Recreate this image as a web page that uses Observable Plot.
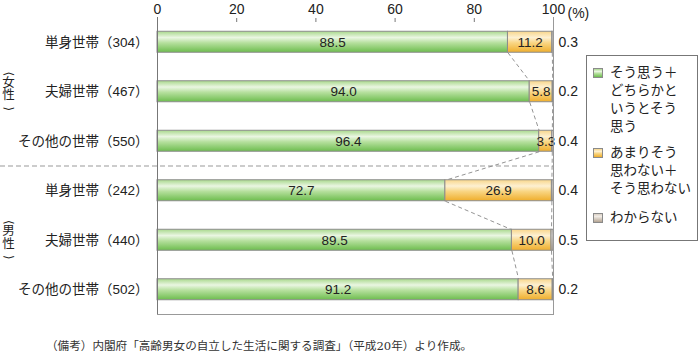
<!DOCTYPE html>
<html><head><meta charset="utf-8">
<script src="https://cdn.jsdelivr.net/npm/d3@7"></script>
<script src="https://cdn.jsdelivr.net/npm/@observablehq/plot@0.6"></script>
<style>
body{margin:0;background:#fff;font-family:"Liberation Sans","Noto Sans CJK JP",sans-serif;color:#222;}
#wrap{position:relative;width:698px;height:360px;overflow:hidden;}
#chart svg{overflow:visible;}
#legend{position:absolute;left:586px;top:55px;width:112px;height:186px;border:1px solid #777;box-sizing:border-box;background:#fff;}
.item{position:absolute;left:23px;font-size:13.5px;line-height:18px;white-space:nowrap;}
.sw{position:absolute;left:6px;width:10px;height:10px;border:1px solid #8a8a8a;box-sizing:border-box;}
#caption{position:absolute;left:46px;top:338px;font-size:11.6px;line-height:16px;color:#333;font-family:"DejaVu Serif","Noto Sans CJK JP",serif;white-space:nowrap;}
</style>
</head><body>
<div id="wrap"><div id="chart"></div><div id="legend"></div><div id="caption"></div></div>
<script>
const rows = ["単身世帯（304）","夫婦世帯（467）","その他の世帯（550）","単身世帯（242）","夫婦世帯（440）","その他の世帯（502）"];
const groups = ["女性","男性"];
const agree = [88.5,94.0,96.4,72.7,89.5,91.2];
const disagree = [11.2,5.8,3.3,26.9,10.0,8.6];
const unknown = [0.3,0.2,0.4,0.4,0.5,0.2];
const seriesNames = ["そう思う＋どちらかというとそう思う","あまりそう思わない＋そう思わない","わからない"];
const legendLines = [["そう思う＋","どちらかと","いうとそう","思う"],["あまりそう","思わない＋","そう思わない"],["わからない"]];
const xTicks = [0,20,40,60,80,100];
const unitLabel = "(%)";
const captionText = "（備考）内閣府「高齢男女の自立した生活に関する調査」（平成20年）より作成。";

const W = 698, H = 340, mL = 157, mR = 145, mT = 17, mB = 26;
const half = 0.212; // half bar height in row units
const gradIds = ["gGreen","gOrange","gGray"];
const gradStops = [
  [[0,"#a8d88c"],[0.3,"#eaf6e2"],[0.55,"#b6e09e"],[1,"#6dbd4e"]],
  [[0,"#f8d68a"],[0.3,"#fdf0d2"],[0.55,"#f9d684"],[1,"#efae2c"]],
  [[0,"#d9cfc3"],[0.3,"#f1ece6"],[1,"#b4a492"]]
];

const segs = [];
const cumA = [], cumB = [];
rows.forEach((r, i) => {
  const vals = [agree[i], disagree[i], unknown[i]];
  let c = 0;
  vals.forEach((v, s) => { segs.push({i, s: seriesNames[s], si: s, v, x1: c, x2: c + v}); c += v; });
  cumA.push(agree[i]); cumB.push(agree[i] + disagree[i]);
});
const links = [];
for (let i = 0; i < rows.length - 1; i++) {
  links.push({x1: cumA[i], x2: cumA[i+1], y1: i + half, y2: i + 1 - half});
  links.push({x1: cumB[i], x2: cumB[i+1], y1: i + half, y2: i + 1 - half});
}
const leftEdge = -mL / (W - mL - mR) * 100;
const groupY = (d, i) => i * 3 + 1;

const chart = Plot.plot({
  width: W, height: H,
  marginLeft: mL, marginRight: mR, marginTop: mT, marginBottom: mB,
  style: {fontFamily: '"Liberation Sans","Noto Sans CJK JP",sans-serif', fontSize: "14px", color: "#222", background: "transparent"},
  x: {domain: [0, 100]},
  y: {domain: [-0.5, rows.length - 0.5], reverse: true},
  color: {domain: seriesNames, range: gradIds.map(id => `url(#${id})`)},
  marks: [
    Plot.ruleY([2.5], {x1: leftEdge, x2: 100, stroke: "#999", strokeDasharray: "5,3", strokeWidth: 1}),
    Plot.link(links, {x1: "x1", x2: "x2", y1: "y1", y2: "y2", stroke: "#888", strokeDasharray: "4,3", strokeWidth: 0.9}),
    Plot.rectX(segs, {x1: "x1", x2: "x2", y1: d => d.i - half, y2: d => d.i + half, fill: "s", stroke: "#8c8c8c", strokeWidth: 1}),
    Plot.text(segs.filter(d => d.si < 2), {x: d => (d.x1 + d.x2) / 2, y: "i", text: d => d.v.toFixed(1), fontSize: 13.5, fill: "#222"}),
    Plot.text(rows, {x: () => 100, y: (d, i) => i, text: (d, i) => unknown[i].toFixed(1), textAnchor: "start", dx: 5, fontSize: 14, fill: "#222"}),
    Plot.text([unitLabel], {x: () => 100, frameAnchor: "top", dy: -9, dx: 14, textAnchor: "start", fontSize: 14, fill: "#222"}),
    Plot.text(groups, {y: groupY, frameAnchor: "left", textAnchor: "middle", dx: -149, dy: -3, text: d => d.split("").join("\n"), lineHeight: 1, fontSize: 12.5, fill: "#222"}),
    Plot.text(groups, {y: groupY, frameAnchor: "left", textAnchor: "middle", dx: -149, dy: -18, text: () => "⟨", rotate: 90, fontSize: 12, fontFamily: "DejaVu Sans", fill: "#222"}),
    Plot.text(groups, {y: groupY, frameAnchor: "left", textAnchor: "middle", dx: -149, dy: 17, text: () => "⟩", rotate: 90, fontSize: 12, fontFamily: "DejaVu Sans", fill: "#222"}),
    Plot.axisY(d3.range(rows.length), {anchor: "left", tickSize: 0, tickPadding: 9, tickFormat: i => rows[i], fontSize: 13.5, label: null}),
    Plot.axisX(xTicks, {anchor: "top", tickSize: -4, tickPadding: 8, label: null, fontSize: 14, stroke: "#777"}),
    Plot.ruleX([0], {stroke: "#777"}),
    Plot.ruleX([100], {stroke: "#999"}),
    Plot.frame({anchor: "bottom", stroke: "#999"})
  ]
});
document.getElementById("chart").appendChild(chart);

const svg = d3.select(chart);
const defs = svg.insert("defs", ":first-child");
gradIds.forEach((id, k) => {
  const g = defs.append("linearGradient").attr("id", id).attr("x1", 0).attr("y1", 0).attr("x2", 0).attr("y2", 1);
  gradStops[k].forEach(([o, c]) => g.append("stop").attr("offset", o).attr("stop-color", c));
});

const legend = document.getElementById("legend");
const itemTops = [8, 88, 153];
legendLines.forEach((lines, k) => {
  const sw = document.createElement("div");
  sw.className = "sw";
  sw.style.top = (itemTops[k] + 4) + "px";
  sw.style.background = `linear-gradient(${gradStops[k].map(([o, c]) => c + " " + (o * 100) + "%").join(",")})`;
  legend.appendChild(sw);
  const it = document.createElement("div");
  it.className = "item";
  it.style.top = itemTops[k] + "px";
  it.innerHTML = lines.join("<br>");
  legend.appendChild(it);
});
document.getElementById("caption").textContent = captionText;
</script>
</body></html>
